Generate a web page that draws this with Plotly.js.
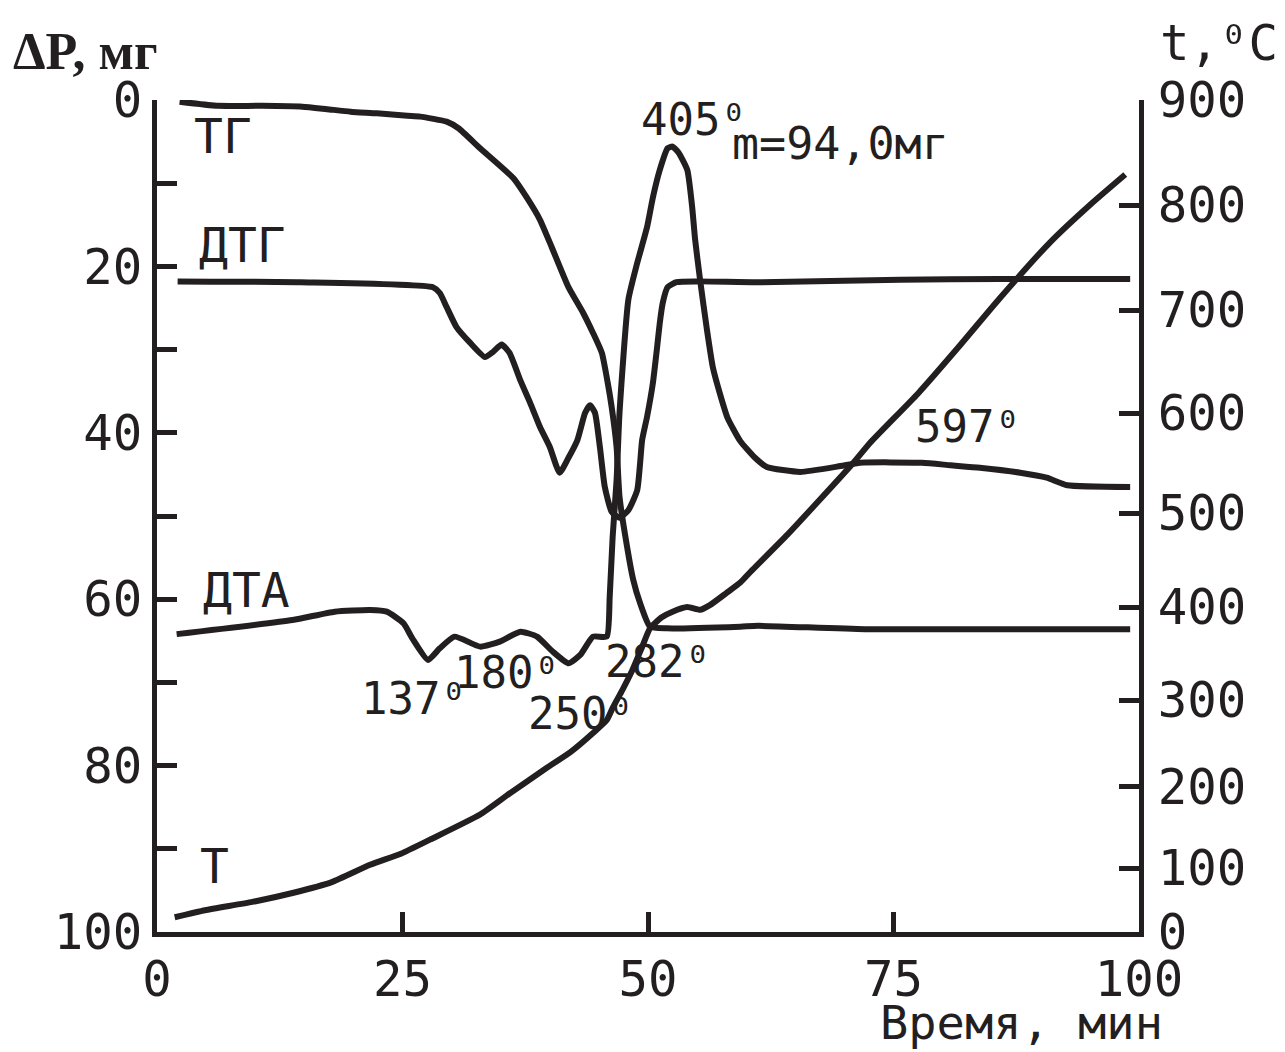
<!DOCTYPE html>
<html>
<head>
<meta charset="utf-8">
<script src="https://cdn.plot.ly/plotly-3.0.1.min.js"></script>
<style>html,body{margin:0;padding:0;background:#fff;}#chart{width:1285px;height:1052px;}</style>
</head>
<body>
<div id="chart"></div>
<script>
// ---- Data (time in minutes) ----
const timeTG = [2.3, 6.2, 10.7, 14.8, 17.3, 19.7, 22.4, 25.5, 26.8, 29.5, 30.7, 32.9, 36.3, 37.7, 39.0, 40.2, 41.9, 43.4, 44.4, 45.3, 45.9, 46.3, 46.8, 47.1, 47.7, 48.5, 49.2, 50.2, 51.9, 59.4, 61.2, 72.1, 99.1];
const tg     = [0.2, 0.7, 0.7, 0.8, 1.1, 1.4, 1.6, 1.9, 2.0, 2.6, 3.4, 5.8, 9.4, 11.8, 14.4, 17.7, 22.5, 25.6, 28.0, 30.4, 34.0, 36.9, 41.7, 47.7, 52.5, 57.7, 60.5, 63.3, 63.5, 63.3, 63.2, 63.6, 63.6];

const timeDTG = [2.1, 14.6, 28.1, 28.8, 29.5, 30.5, 31.9, 33.4, 34.2, 35.1, 35.9, 37.0, 38.0, 39.0, 40.0, 41.0, 41.9, 42.8, 43.6, 44.1, 44.6, 45.1, 45.6, 46.3, 47.1, 48.0, 48.9, 49.2, 49.4, 49.9, 50.5, 50.9, 51.2, 51.5, 52.0, 52.9, 55.0, 61.4, 75.7, 85.8, 99.1];
const dtg     = [21.8, 21.9, 22.5, 23.2, 24.9, 27.3, 29.2, 30.9, 30.3, 29.4, 30.4, 33.7, 36.4, 39.3, 41.7, 44.8, 43.0, 40.9, 37.6, 36.7, 37.6, 41.7, 46.5, 49.5, 50.2, 49.3, 46.9, 43.6, 40.9, 38.1, 34.0, 30.0, 26.8, 24.4, 22.5, 21.9, 21.8, 21.9, 21.6, 21.5, 21.5];

const timeDTA = [2.0, 13.8, 18.1, 21.7, 23.4, 25.1, 26.0, 27.6, 28.8, 30.3, 32.9, 34.9, 37.0, 38.7, 40.3, 41.9, 43.1, 44.4, 45.8, 46.1, 46.4, 46.8, 47.1, 48.0, 48.9, 49.9, 50.5, 51.2, 52.0, 52.5, 53.1, 54.0, 54.5, 54.8, 55.3, 56.0, 56.6, 57.3, 58.1, 59.4, 60.9, 62.1, 65.5, 69.6, 71.6, 77.9, 80.8, 83.8, 87.9, 90.6, 92.7, 99.1];
const dta     = [64.2, 62.5, 61.5, 61.3, 61.5, 62.9, 64.7, 67.3, 65.9, 64.5, 65.7, 65.1, 63.9, 64.5, 66.3, 67.7, 66.7, 64.5, 64.5, 59.7, 52.5, 45.7, 37.6, 24.0, 19.6, 15.3, 11.7, 8.4, 5.8, 5.6, 6.3, 8.4, 12.9, 16.8, 21.6, 27.6, 32.1, 35.2, 38.2, 41.0, 43.0, 44.1, 44.7, 44.0, 43.6, 43.6, 43.9, 44.2, 44.8, 45.4, 46.3, 46.5];

const timeT = [1.8, 4.9, 9.7, 13.8, 17.8, 21.7, 24.9, 27.8, 32.9, 35.9, 39.7, 42.1, 44.4, 45.8, 46.4, 47.4, 48.4, 49.4, 50.2, 51.4, 52.5, 54.0, 55.3, 56.3, 58.0, 59.4, 60.4, 64.2, 67.0, 70.9, 72.6, 77.5, 81.8, 85.8, 90.9, 95.0, 98.6];
const tempT = [23, 34, 47, 61, 78, 104, 118, 135, 166, 192, 222, 240, 262, 277, 291, 311, 332, 357, 377, 389, 395, 400, 397, 402, 415, 426, 437, 477, 508, 550, 570, 619, 666, 711, 764, 800, 829];

// Right (temperature) axis: tick labels and their positions on the drawn scale (non-uniform, % of height)
const tempTicks   = [0, 100, 200, 300, 400, 500, 600, 700, 800, 900];
const tempTickPos = [0, 7.69, 17.43, 27.88, 39.06, 50.36, 62.38, 74.76, 87.38, 100];

// Left axis ticks
const dpTicks = [0, 20, 40, 60, 80, 100];
const dpMinorTicks = [10, 30, 50, 70, 90];
const timeTicks = [0, 25, 50, 75, 100];

// Peak temperature labels (°C) and where they sit (time, ΔP)
const peakLabels = ['137⁰', '180⁰', '250⁰', '282⁰', '405⁰', '597⁰'];
const peakX = [20.6, 30.0, 37.6, 45.4, 49.1, 77.0];
const peakY = [71.9, 68.8, 73.7, 67.5, 2.4, 39.2];

// Curve labels
const curveNames = ['ТГ', 'ДТГ', 'ДТА', 'Т'];
const curveLabelX = [6.7, 8.7, 9.1, 5.9];
const curveLabelY = [4.3, 17.4, 58.9, 92.1];

// temperature -> position on the drawn (non-uniform) scale
function tempScale(t) {
  for (let i = 0; i < tempTicks.length - 1; i++) {
    if (t <= tempTicks[i + 1]) {
      const f = (t - tempTicks[i]) / (tempTicks[i + 1] - tempTicks[i]);
      return tempTickPos[i] + f * (tempTickPos[i + 1] - tempTickPos[i]);
    }
  }
  return tempTickPos[tempTickPos.length - 1];
}

const INK = '#231f20';
const MONO = 'DejaVu Sans Mono, monospace';
const lineStyle = {color: INK, width: 6, shape: 'spline', smoothing: 0.5};

const traces = [
  {x: timeTG, y: tg, name: 'ТГ', mode: 'lines', line: lineStyle, yaxis: 'y'},
  {x: timeDTG, y: dtg, name: 'ДТГ', mode: 'lines', line: lineStyle, yaxis: 'y'},
  {x: timeDTA, y: dta, name: 'ДТА', mode: 'lines', line: lineStyle, yaxis: 'y'},
  {x: timeT, y: tempT.map(tempScale), name: 'Т', mode: 'lines', line: lineStyle, yaxis: 'y2',
   customdata: tempT, hovertemplate: '%{customdata} °C<extra></extra>'}
];

const annotations = [];
curveNames.forEach((n, i) => annotations.push({
  text: n, x: curveLabelX[i], y: curveLabelY[i], xref: 'x', yref: 'y',
  showarrow: false, font: {family: MONO, size: 48, color: INK}
}));
peakLabels.forEach((n, i) => {
  annotations.push({
    text: n, x: peakX[i], y: peakY[i], xref: 'x', yref: 'y',
    xanchor: 'left', yanchor: 'middle',
    showarrow: false, font: {family: MONO, size: 44, color: INK}
  });
});
annotations.push({
  text: 'm=94,0мг', x: 58.4, y: 5.2, xref: 'x', yref: 'y', xanchor: 'left',
  showarrow: false, font: {family: MONO, size: 45, color: INK}
});
annotations.push({
  text: '<b>ΔP, мг</b>', x: -0.1487, y: 1.058, xref: 'paper', yref: 'paper',
  xanchor: 'left', yanchor: 'middle', showarrow: false,
  font: {family: 'Liberation Serif, Times New Roman, serif', size: 52, color: INK}
});
annotations.push({
  text: 't,⁰C', x: 1.0194, y: 1.0685, xref: 'paper', yref: 'paper',
  xanchor: 'left', yanchor: 'middle', showarrow: false,
  font: {family: MONO, size: 49, color: INK}
});
annotations.push({
  text: 'Время, мин', x: 1.0254, y: -0.1435, xref: 'paper', yref: 'paper',
  xanchor: 'right', yanchor: 'bottom', showarrow: false, borderpad: 0,
  font: {family: MONO, size: 47, color: INK}
});

const axisCommon = {
  showline: true, linecolor: INK, linewidth: 5,
  ticks: 'inside', ticklen: 20, tickwidth: 5, tickcolor: INK,
  showgrid: false, zeroline: false,
  tickfont: {family: MONO, size: 49, color: INK}
};

const layout = {
  width: 1285, height: 1052,
  margin: {l: 157, r: 146, t: 100, b: 120, pad: 0},
  paper_bgcolor: '#ffffff', plot_bgcolor: '#ffffff',
  showlegend: false,
  xaxis: Object.assign({}, axisCommon, {
    range: [0, 100], tickmode: 'array', tickvals: timeTicks,
    ticktext: timeTicks.map(String)
  }),
  yaxis: Object.assign({}, axisCommon, {
    range: [100, 0], tickmode: 'array', tickvals: dpTicks, ticktext: dpTicks.map(String),
    minor: {tickmode: 'array', tickvals: dpMinorTicks, ticks: 'inside', ticklen: 20,
            tickwidth: 5, tickcolor: INK, showgrid: false}
  }),
  yaxis2: Object.assign({}, axisCommon, {
    range: [0, 100], overlaying: 'y', side: 'right', anchor: 'x',
    tickmode: 'array', tickvals: tempTickPos, ticktext: tempTicks.map(String),
    ticklabelstandoff: 4
  }),
  annotations: annotations
};

Plotly.newPlot('chart', traces, layout, {displayModeBar: false, staticPlot: true});
</script>
</body>
</html>
